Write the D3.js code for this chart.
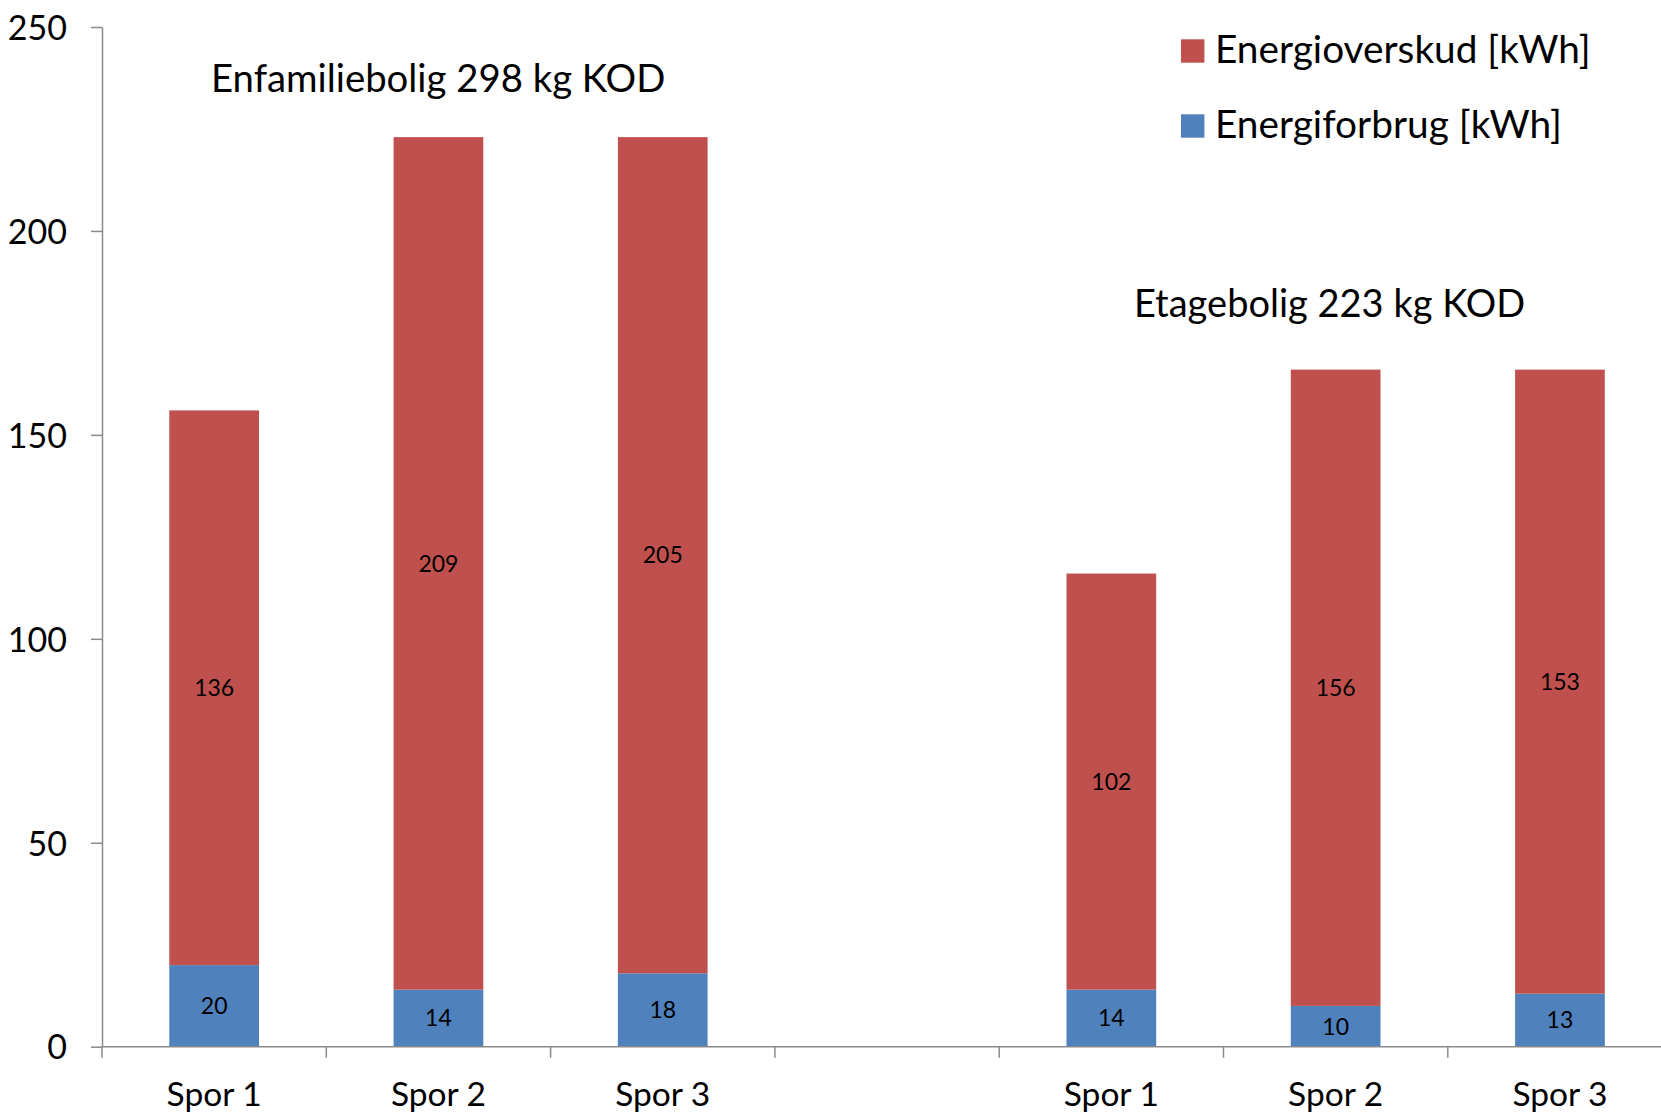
<!DOCTYPE html>
<html>
<head>
<meta charset="utf-8">
<script src="https://cdn.jsdelivr.net/npm/d3@7"></script>
<style>
  html, body { margin: 0; padding: 0; background: #fff; }
  svg { display: block; font-family: Lato, "Open Sans", sans-serif; }
</style>
</head>
<body>
<svg id="chart" width="1661" height="1113"></svg>
<script>
// slots along the x axis, the 4th one is an empty gap between the two groups
var slots = ["Spor 1", "Spor 2", "Spor 3", "", "Spor 1", "Spor 2", "Spor 3"];
var forbrug = [20, 14, 18, null, 14, 10, 13];      // Energiforbrug [kWh]
var overskud = [136, 209, 205, null, 102, 156, 153]; // Energioverskud [kWh]
var yTicks = [0, 50, 100, 150, 200, 250];
var seriesNames = ["Energioverskud [kWh]", "Energiforbrug [kWh]"];
var groupTitles = ["Enfamiliebolig 298 kg KOD", "Etagebolig 223 kg KOD"];

var red = "#c0504d", blue = "#4f81bd", axisColor = "#8a8a8a";

var svg = d3.select("#chart");
var plotLeft = 102, plotTop = 27, plotBottom = 1046.7, slotWidth = 224.3;

var x = d3.scaleBand()
    .domain(d3.range(slots.length))
    .range([plotLeft, plotLeft + slotWidth * slots.length])
    .paddingInner(0.6)
    .paddingOuter(0.3);

var y = d3.scaleLinear().domain([0, 250]).range([plotBottom, plotTop]);

// stacked data
var rows = slots.map(function (s, i) {
    return { i: i, label: s, forbrug: forbrug[i], overskud: overskud[i] };
}).filter(function (d) { return d.forbrug !== null; });

// blue bottom segments
svg.append("g").selectAll("rect")
    .data(rows).enter().append("rect")
    .attr("x", function (d) { return x(d.i); })
    .attr("width", x.bandwidth())
    .attr("y", function (d) { return y(d.forbrug); })
    .attr("height", function (d) { return y(0) - y(d.forbrug); })
    .attr("fill", blue);

// red top segments
svg.append("g").selectAll("rect")
    .data(rows).enter().append("rect")
    .attr("x", function (d) { return x(d.i); })
    .attr("width", x.bandwidth())
    .attr("y", function (d) { return y(d.forbrug + d.overskud); })
    .attr("height", function (d) { return y(d.forbrug) - y(d.forbrug + d.overskud); })
    .attr("fill", red);

// data labels, centred in each segment
var labels = svg.append("g")
    .style("font-size", "23px")
    .attr("fill", "#000")
    .attr("text-anchor", "middle");
labels.selectAll("text.f")
    .data(rows).enter().append("text")
    .attr("class", "f")
    .attr("x", function (d) { return x(d.i) + x.bandwidth() / 2; })
    .attr("y", function (d) { return y(d.forbrug / 2); })
    .attr("dy", "0.36em")
    .text(function (d) { return d.forbrug; });
labels.selectAll("text.o")
    .data(rows).enter().append("text")
    .attr("class", "o")
    .attr("x", function (d) { return x(d.i) + x.bandwidth() / 2; })
    .attr("y", function (d) { return y(d.forbrug + d.overskud / 2); })
    .attr("dy", "0.36em")
    .text(function (d) { return d.overskud; });

// y axis
var yAxis = svg.append("g")
    .attr("transform", "translate(" + plotLeft + ",0)")
    .call(d3.axisLeft(y).tickValues(yTicks).tickSize(11).tickPadding(24).tickSizeOuter(0));
yAxis.select(".domain").attr("stroke", axisColor).attr("stroke-width", 1.5);
yAxis.selectAll(".tick line").attr("stroke", axisColor).attr("stroke-width", 1.5);
yAxis.selectAll(".tick text")
    .attr("fill", "#000")
    .style("font-family", "Lato, sans-serif")
    .style("font-size", "34px")
    .attr("dy", "0.36em");

// x axis: line, boundary ticks, slot labels
var xr = x.range();
svg.append("line")
    .attr("x1", xr[0]).attr("x2", xr[1])
    .attr("y1", y(0)).attr("y2", y(0))
    .attr("stroke", axisColor).attr("stroke-width", 1.5);
svg.append("g").selectAll("line")
    .data(d3.range(slots.length + 1)).enter().append("line")
    .attr("x1", function (i) { return xr[0] + i * x.step(); })
    .attr("x2", function (i) { return xr[0] + i * x.step(); })
    .attr("y1", y(0)).attr("y2", y(0) + 11)
    .attr("stroke", axisColor).attr("stroke-width", 1.5);
svg.append("g").selectAll("text")
    .data(slots.map(function (s, i) { return { s: s, i: i }; })).enter().append("text")
    .attr("x", function (d) { return x(d.i) + x.bandwidth() / 2; })
    .attr("y", y(0) + 59)
    .attr("text-anchor", "middle")
    .style("font-size", "33.5px")
    .attr("fill", "#000")
    .text(function (d) { return d.s; });

// group titles
svg.append("text")
    .attr("x", 211).attr("y", 91.7)
    .style("font-size", "38.3px")
    .attr("fill", "#000")
    .text(groupTitles[0]);
svg.append("text")
    .attr("x", 1134).attr("y", 316.7)
    .style("font-size", "38px")
    .attr("fill", "#000")
    .text(groupTitles[1]);

// legend
var legend = svg.append("g").selectAll("g")
    .data([{ name: seriesNames[0], color: red }, { name: seriesNames[1], color: blue }])
    .enter().append("g")
    .attr("transform", function (d, i) { return "translate(1181," + (39.3 + i * 75) + ")"; });
legend.append("rect")
    .attr("width", 23.4).attr("height", 23.4)
    .attr("fill", function (d) { return d.color; });
legend.append("text")
    .attr("x", 34).attr("y", 23.5)
    .style("font-size", "38.8px")
    .attr("fill", "#000")
    .text(function (d) { return d.name; });
</script>
</body>
</html>
